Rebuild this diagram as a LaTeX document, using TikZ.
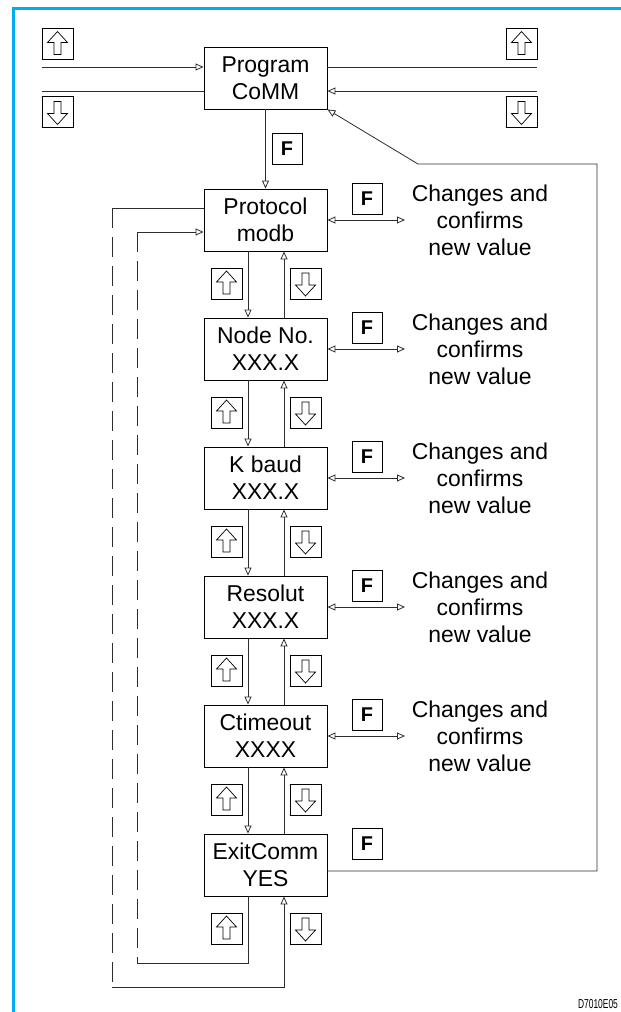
\documentclass[tikz,border=0pt]{standalone}
\usepackage{fontspec}
\usepackage{graphicx}
\setmainfont{Liberation Sans}
\usetikzlibrary{arrows.meta}
\definecolor{bord}{RGB}{0,174,239}
\definecolor{ln}{RGB}{45,45,45}
\begin{document}
\begin{tikzpicture}[x=1bp,y=-1bp,
  box/.style={draw=black, line width=0.9bp, minimum width=123bp, minimum height=62bp, inner sep=0pt, align=center, font=\fontsize{23}{27}\selectfont},
  keybox/.style={draw=black, line width=0.7bp, minimum width=31bp, minimum height=31bp, inner sep=0pt},
  fkey/.style={draw=black, line width=0.7bp, minimum width=30bp, minimum height=31bp, inner sep=0pt, font=\fontsize{20}{20}\selectfont\bfseries},
  conn/.style={draw=ln, line width=0.8bp},
  arr/.style={conn, -{Triangle[open,length=8bp,width=7bp]}},
  darr/.style={conn, {Triangle[open,length=8bp,width=7bp]}-{Triangle[open,length=8bp,width=7bp]}},
  dsh/.style={conn, dash pattern=on 20bp off 9bp},
  note/.style={align=center, font=\fontsize{23}{27}\selectfont},
  symline/.style={draw=black, line width=0.7bp, line join=miter},
  uparrow/.pic={\draw[symline] (0,-12.5) -- (10,-1.5) -- (3.5,-1.5) -- (3.5,10.5) -- (-3.5,10.5) -- (-3.5,-1.5) -- (-10,-1.5) -- cycle;},
  downarrow/.pic={\draw[symline] (0,12.5) -- (10,1.5) -- (3.5,1.5) -- (3.5,-10.5) -- (-3.5,-10.5) -- (-3.5,1.5) -- (-10,1.5) -- cycle;}
]
\useasboundingbox (0,0) rectangle (621,1012);
% blue border
\coordinate (bl) at (13.5,1012); \coordinate (tl) at (13.5,8); \coordinate (tr) at (621,8);
\draw[bord, line width=3bp] (bl) -- (tl) -- (tr);

% main boxes
\node[box] (prog) at (265.5,78) {Program\\CoMM};
\node[box] (r1) at (265.5,220) {Protocol\\modb};
\node[box] (r2) at (265.5,349) {Node No.\\XXX.X};
\node[box] (r3) at (265.5,478) {K baud\\XXX.X};
\node[box] (r4) at (265.5,607) {Resolut\\XXX.X};
\node[box] (r5) at (265.5,736) {Ctimeout\\XXXX};
\node[box] (r6) at (265.5,865) {ExitComm\\YES};

% top key boxes
\node[keybox] (ku1) at (57.5,44) {}; \pic at (ku1) {uparrow};
\node[keybox] (kd1) at (57.5,112) {}; \pic at (kd1) {downarrow};
\node[keybox] (ku2) at (521.5,44) {}; \pic at (ku2) {uparrow};
\node[keybox] (kd2) at (521.5,112) {}; \pic at (kd2) {downarrow};

% top lines
\coordinate (a1) at (42,67); \coordinate (a2) at (42,91);
\coordinate (b1) at (537,67); \coordinate (b2) at (537,91);
\draw[arr] (a1) -- (a1 -| prog.west);
\draw[conn] (a2) -- (a2 -| prog.west);
\draw[conn] (b1 -| prog.east) -- (b1);
\draw[arr] (b2) -- (b2 -| prog.east);

% program to protocol
\node[fkey] (f0) at (287,148.5) {F};
\draw[arr] (prog.south) -- (r1.north);

% rows with F and notes
\foreach \i/\cy in {1/220,2/349,3/478,4/607,5/736} {
  \node[fkey] (f\i) at (367,{\cy-21.5}) {F};
  \coordinate (e\i) at (405,\cy);
  \draw[darr] (r\i.east) -- (e\i);
  \node[note] (t\i) at (480,\cy) {Changes and\\confirms\\new value};
}
\node[fkey] (f6) at (367,843.5) {F};

% vertical connectors between rows
\coordinate (xl) at (248,0); \coordinate (xr) at (284,0);
\foreach \i/\j in {1/2,2/3,3/4,4/5,5/6} {
  \draw[arr] (r\i.south -| xl) -- (r\j.north -| xl);
  \draw[arr] (r\j.north -| xr) -- (r\i.south -| xr);
}
% key boxes between rows and below last
\foreach \k/\cy in {1/283.5,2/412.5,3/541.5,4/670.5,5/799.5,6/928.5} {
  \node[keybox] (u\k) at (226.5,\cy) {}; \pic at (u\k) {uparrow};
  \node[keybox] (d\k) at (305.5,\cy) {}; \pic at (d\k) {downarrow};
}

% outer dashed loop (down key from ExitComm? back to ExitComm)
\coordinate (o1) at (112,208); \coordinate (o2) at (112,987); \coordinate (o3) at (284,987);
\draw[conn] (r1.west |- o1) -- (o1);
\draw[dsh] (o1) -- (o2);
\draw[arr] (o2) -- (o3) -- (o3 |- r6.south);

% inner dashed loop
\coordinate (i1) at (137,232); \coordinate (i2) at (137,963); \coordinate (i3) at (248,963);
\draw[conn] (r6.south -| i3) -- (i3) -- (i2);
\draw[dsh] (i1) -- (i2);
\draw[arr] (i1) -- (i1 -| r1.west);

% right loop back to Program
\coordinate (q1) at (597,871); \coordinate (q2) at (597,164); \coordinate (q3) at (418,164);
\draw[arr] (r6.east |- q1) -- (q1) -- (q2) -- (q3) -- (prog.south east);

% figure code
\node[inner sep=0pt, font=\fontsize{13}{13}\selectfont] (code) at (598,1004) {\scalebox{0.65}[1]{D7010E05}};
\end{tikzpicture}
\end{document}
